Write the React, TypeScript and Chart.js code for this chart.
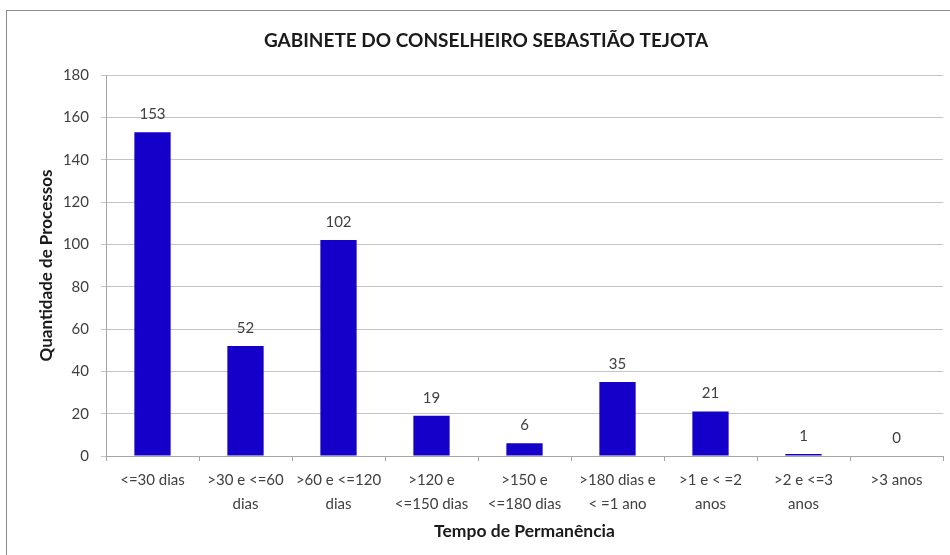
import React, { useEffect, useRef } from "react";
import { Chart, registerables } from "chart.js";

Chart.register(...registerables);

const TITLE = "GABINETE DO CONSELHEIRO SEBASTIÃO TEJOTA";
const Y_TITLE = "Quantidade de Processos";
const X_TITLE = "Tempo de Permanência";
const categories: string[][] = [
  ["<=30 dias"],
  [">30 e <=60", "dias"],
  [">60 e <=120", "dias"],
  [">120 e", "<=150 dias"],
  [">150 e", "<=180 dias"],
  [">180 dias e", "< =1 ano"],
  [">1 e < =2", "anos"],
  [">2 e <=3", "anos"],
  [">3 anos"],
];
const values: number[] = [153, 52, 102, 19, 6, 35, 21, 1, 0];
const Y_MIN = 0;
const Y_MAX = 180;
const Y_STEP = 20;

const FONT = "Lato, 'Open Sans', sans-serif";
const TEXT = "#404040";

const overlayPlugin = {
  id: "overlay",
  afterDatasetsDraw(chart: any) {
    const ctx = chart.ctx;
    ctx.save();
    ctx.fillStyle = "#1a1a1a";
    ctx.font = `bold 19px ${FONT}`;
    ctx.textAlign = "center";
    ctx.textBaseline = "middle";
    ctx.fillText(TITLE, 486, 41);
    const meta = chart.getDatasetMeta(0);
    ctx.font = `15px ${FONT}`;
    ctx.fillStyle = TEXT;
    ctx.textBaseline = "middle";
    meta.data.forEach((bar: any, i: number) => {
      ctx.fillText(String(values[i]), bar.x, bar.y - 18);
    });
    ctx.restore();
  },
};

export default function App() {
  const ref = useRef<HTMLCanvasElement | null>(null);
  useEffect(() => {
    document.body.style.margin = "0";
    const chart = new Chart(ref.current as HTMLCanvasElement, {
      type: "bar",
      data: {
        labels: categories,
        datasets: [
          {
            data: values,
            backgroundColor: "#1400C8",
            borderWidth: 0,
            barPercentage: 0.39,
            categoryPercentage: 1,
          },
        ],
      },
      options: {
        animation: false,
        responsive: false,
        layout: { padding: { top: 75, right: 7, left: 36, bottom: 13 } },
        plugins: {
          legend: { display: false },
          tooltip: { enabled: false },
        },
        scales: {
          x: {
            grid: {
              drawOnChartArea: false,
              drawTicks: true,
              tickLength: 5,
              color: "#a6a6a6",
            },
            border: { color: "#a6a6a6" },
            ticks: {
              font: { family: FONT, size: 15, lineHeight: 1.55 },
              color: TEXT,
              maxRotation: 0,
              autoSkip: false,
              padding: 8,
            },
            title: {
              display: true,
              text: X_TITLE,
              font: { family: FONT, size: 17.5, weight: "bold" },
              color: "#1a1a1a",
              padding: { top: 2, bottom: 0 },
            },
            afterFit(scale: any) {
              scale.height = 86;
            },
          },
          y: {
            min: Y_MIN,
            max: Y_MAX,
            ticks: {
              stepSize: Y_STEP,
              font: { family: FONT, size: 15 },
              color: TEXT,
              padding: 12,
            },
            grid: {
              color: "#c4c4c4",
              tickLength: 5,
              lineWidth: 1,
            },
            border: { color: "#a6a6a6" },
            title: {
              display: true,
              text: Y_TITLE,
              font: { family: FONT, size: 17, weight: "bold" },
              color: "#1a1a1a",
              padding: { top: 0, bottom: 0 },
            },
            afterFit(scale: any) {
              scale.width = 70;
            },
          },
        },
      },
      plugins: [overlayPlugin],
    });
    return () => chart.destroy();
  }, []);
  return (
    <div style={{ position: "relative", width: 950, height: 555, overflow: "hidden", background: "#fff" }}>
      <canvas ref={ref} width={950} height={555} style={{ display: "block" }} />
      <div
        style={{
          position: "absolute",
          left: 6,
          top: 10,
          width: 1000,
          height: 1000,
          borderLeft: "1px solid #8c8c8c",
          borderTop: "1px solid #8c8c8c",
          pointerEvents: "none",
        }}
      />
    </div>
  );
}
